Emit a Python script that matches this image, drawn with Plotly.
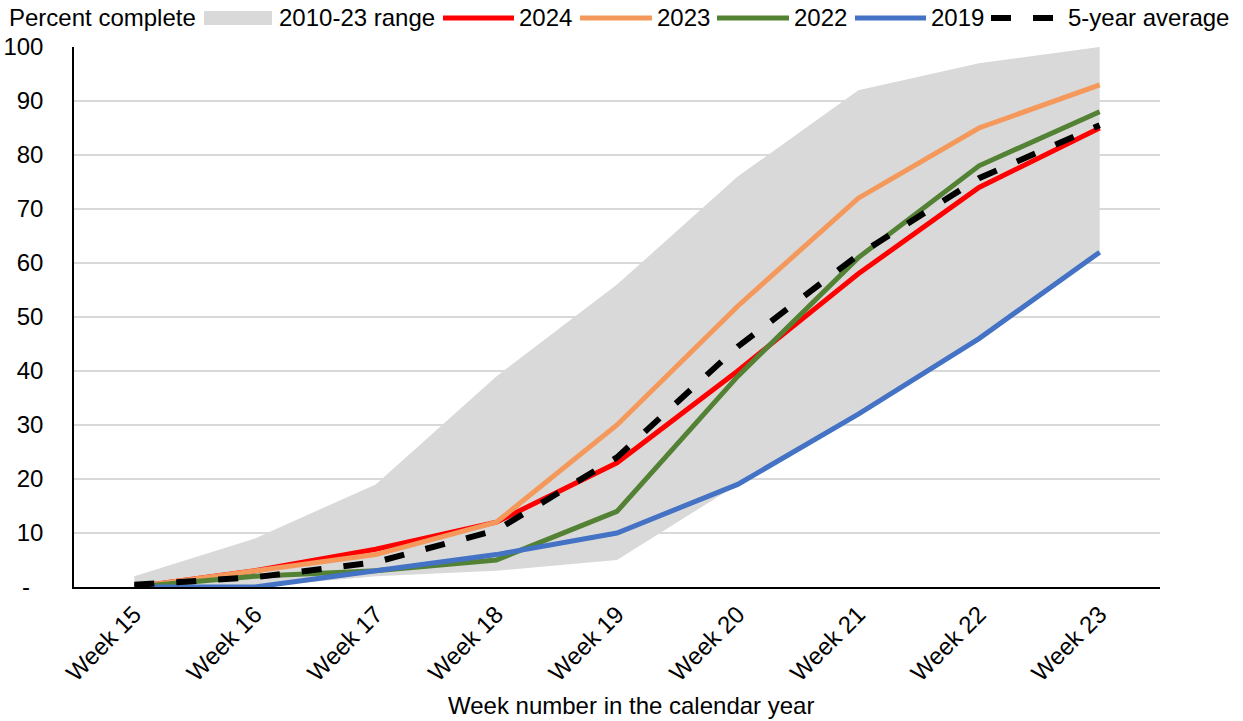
import plotly.graph_objects as go

# Planting progress, percent complete by calendar week
weeks = ["Week 15", "Week 16", "Week 17", "Week 18", "Week 19",
         "Week 20", "Week 21", "Week 22", "Week 23"]
range_low = [0, 0, 2, 3, 5, 19, 32, 46, 62]
range_high = [2, 9, 19, 39, 56, 76, 92, 97, 100]
y2024 = [0, 3, 7, 12, 23, 40, 58, 74, 85]
y2023 = [0, 3, 6, 12, 30, 52, 72, 85, 93]
y2022 = [0, 2, 3, 5, 14, 39, 61, 78, 88]
y2019 = [0, 0, 3, 6, 10, 19, 32, 46, 62]
avg5 = [0.4, 1.8, 4.6, 10.5, 24, 44.5, 61.5, 75.7, 85.5]

y_ticks = [0, 10, 20, 30, 40, 50, 60, 70, 80, 90, 100]
y_ticktext = ["-\u00a0\u00a0"] + [str(v) for v in y_ticks[1:]]

FONT = "Liberation Sans, Arial, sans-serif"
W, H = 1243, 721
ML, MR, MT, MB = 74, 83, 47, 134
PW, PH = W - ML - MR, H - MT - MB

RANGE_FILL = "#D9D9D9"
series = [
    ("2024", y2024, "#FF0000", 5, "solid"),
    ("2023", y2023, "#F4995B", 5, "solid"),
    ("2022", y2022, "#548235", 5, "solid"),
    ("2019", y2019, "#4472C4", 5, "solid"),
    ("5-year average", avg5, "#000000", 6, "20px,22px"),
]

fig = go.Figure()

# shaded 2010-23 range
fig.add_trace(go.Scatter(x=weeks, y=range_low, mode="lines",
                         line=dict(width=0, color=RANGE_FILL),
                         showlegend=False, hoverinfo="skip"))
fig.add_trace(go.Scatter(x=weeks, y=range_high, mode="lines",
                         line=dict(width=0, color=RANGE_FILL),
                         fill="tonexty", fillcolor=RANGE_FILL,
                         showlegend=False, name="2010-23 range"))

for name, vals, color, width, dash in series:
    fig.add_trace(go.Scatter(x=weeks, y=vals, mode="lines", name=name,
                             line=dict(color=color, width=width, dash=dash),
                             showlegend=False))


def px_x(px):
    return (px - ML) / PW


def px_y(py):
    return (H - MB - py) / PH


# legend row across the top
shapes = []
annotations = []
LEG_Y = 18


def leg_text(x, text):
    annotations.append(dict(text=text, x=px_x(x), y=px_y(LEG_Y),
                            xref="paper", yref="paper", xanchor="left",
                            yanchor="middle", showarrow=False,
                            font=dict(family=FONT, size=24, color="black")))


leg_text(7, "Percent complete")
shapes.append(dict(type="rect", xref="paper", yref="paper",
                   x0=px_x(204), x1=px_x(272), y0=px_y(LEG_Y + 7), y1=px_y(LEG_Y - 7),
                   fillcolor=RANGE_FILL, line=dict(width=0)))
leg_text(277, "2010-23 range")

legend_pos = [(443, 514, 517), (580, 652, 655), (717, 789, 792),
              (855, 926, 929), (991, 1057, 1066)]
for (name, vals, color, width, dash), (x0, x1, tx) in zip(series, legend_pos):
    shapes.append(dict(type="line", xref="paper", yref="paper",
                       x0=px_x(x0), x1=px_x(x1), y0=px_y(LEG_Y), y1=px_y(LEG_Y),
                       line=dict(color=color, width=width, dash=dash)))
    leg_text(tx, name)

# x axis title
annotations.append(dict(text="Week number in the calendar year",
                        x=px_x(631), y=px_y(705), xref="paper", yref="paper",
                        xanchor="center", yanchor="middle", showarrow=False,
                        font=dict(family=FONT, size=24, color="black")))

fig.update_layout(
    width=W, height=H,
    margin=dict(l=ML, r=MR, t=MT, b=MB, pad=0, autoexpand=False),
    paper_bgcolor="white", plot_bgcolor="white",
    font=dict(family=FONT, size=24, color="black"),
    shapes=shapes, annotations=annotations,
    showlegend=False,
)
fig.update_xaxes(
    type="category", range=[-0.5, len(weeks) - 0.5], automargin=False,
    showgrid=False, showline=True, linecolor="#000000", linewidth=1.5,
    tickangle=-45, ticks="", ticklabelstandoff=2,
    tickfont=dict(family=FONT, size=24, color="black"),
    zeroline=False, fixedrange=True,
)
fig.update_yaxes(
    range=[0, 100], tickvals=y_ticks, ticktext=y_ticktext, automargin=False,
    showgrid=True, gridcolor="#D9D9D9", gridwidth=1.5,
    showline=True, linecolor="#000000", linewidth=1.5,
    ticks="", ticklabelstandoff=24,
    tickfont=dict(family=FONT, size=24, color="black"),
    zeroline=False, fixedrange=True,
)

fig.write_html("out.html")
